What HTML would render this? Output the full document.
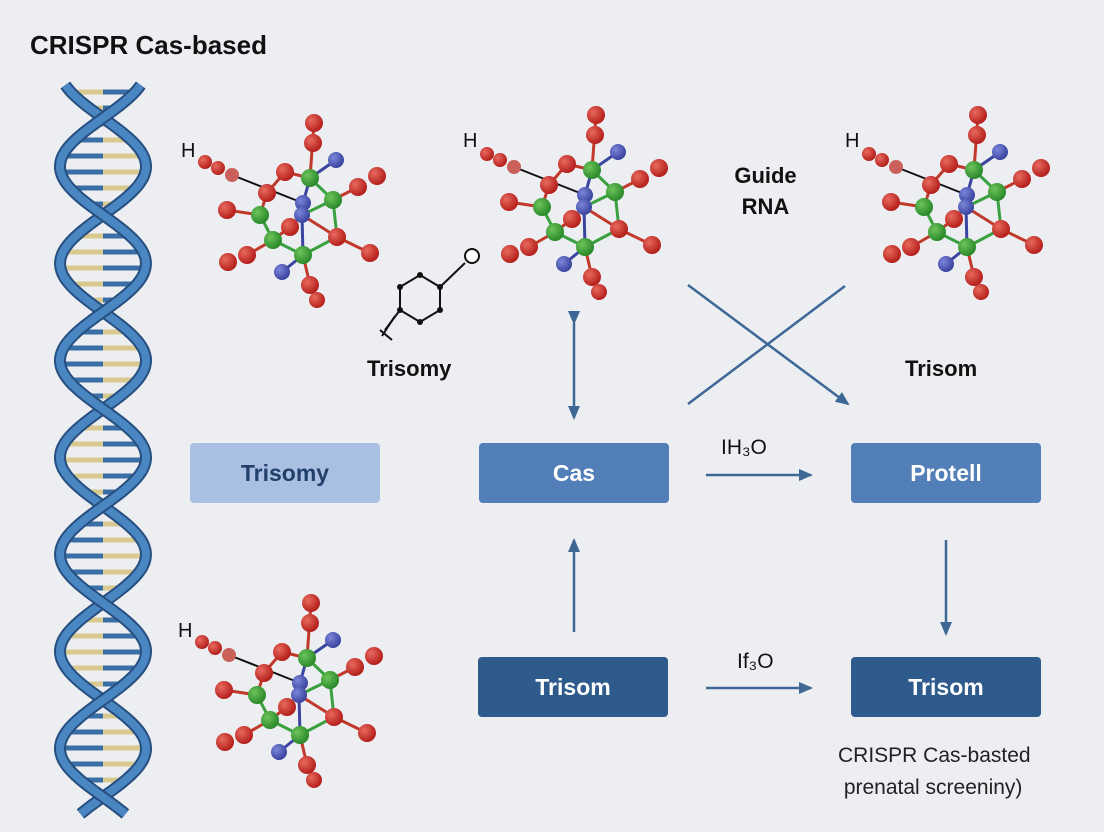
<!DOCTYPE html>
<html><head><meta charset="utf-8"><style>
html,body{margin:0;padding:0;background:#eceef1;}
body{width:1104px;height:832px;position:relative;overflow:hidden;font-family:"Liberation Sans",sans-serif;}
.t{position:absolute;color:#111;}
.box{position:absolute;width:190px;height:60px;border-radius:4px;color:#fff;font-weight:bold;font-size:23px;display:flex;align-items:center;justify-content:center;}
</style></head><body>
<svg id="s" width="1104" height="832" style="position:absolute;left:0;top:0">
<defs>
<radialGradient id="rg" cx="35%" cy="35%" r="65%"><stop offset="0" stop-color="#e86a5e"/><stop offset="1" stop-color="#b5201c"/></radialGradient>
<radialGradient id="gg" cx="35%" cy="35%" r="65%"><stop offset="0" stop-color="#6cc35a"/><stop offset="1" stop-color="#2b8a2b"/></radialGradient>
<radialGradient id="bg" cx="35%" cy="35%" r="65%"><stop offset="0" stop-color="#7b85d8"/><stop offset="1" stop-color="#3b45a0"/></radialGradient>
<marker id="ah" markerWidth="14" markerHeight="12" refX="12" refY="6" orient="auto" markerUnits="userSpaceOnUse"><path d="M0,0 L14,6 L0,12 z" fill="#3d6896"/></marker>
<g id="mol">
 <g stroke-width="3">
 <line x1="232" y1="175" x2="303" y2="203" stroke="#111" stroke-width="2"/>
 <line x1="314" y1="123" x2="310" y2="178" stroke="#c0392b"/>
 <line x1="285" y1="172" x2="310" y2="178" stroke="#c0392b"/>
 <line x1="285" y1="172" x2="267" y2="193" stroke="#c0392b"/>
 <line x1="310" y1="178" x2="336" y2="160" stroke="#3b45a0"/>
 <line x1="310" y1="178" x2="333" y2="200" stroke="#3aa040"/>
 <line x1="310" y1="178" x2="303" y2="203" stroke="#3b45a0"/>
 <line x1="358" y1="187" x2="333" y2="200" stroke="#c0392b"/>
 <line x1="333" y1="200" x2="302" y2="215" stroke="#3aa040"/>
 <line x1="333" y1="200" x2="337" y2="237" stroke="#3aa040"/>
 <line x1="267" y1="193" x2="260" y2="215" stroke="#c0392b"/>
 <line x1="227" y1="210" x2="260" y2="215" stroke="#c0392b"/>
 <line x1="260" y1="215" x2="273" y2="240" stroke="#3aa040"/>
 <line x1="273" y1="240" x2="303" y2="255" stroke="#3aa040"/>
 <line x1="247" y1="255" x2="273" y2="240" stroke="#c0392b"/>
 <line x1="303" y1="255" x2="337" y2="237" stroke="#3aa040"/>
 <line x1="303" y1="255" x2="282" y2="272" stroke="#3b45a0"/>
 <line x1="303" y1="255" x2="310" y2="285" stroke="#c0392b"/>
 <line x1="337" y1="237" x2="370" y2="253" stroke="#c0392b"/>
 <line x1="302" y1="215" x2="337" y2="237" stroke="#c0392b"/>
 <line x1="302" y1="215" x2="303" y2="255" stroke="#3b45a0"/>
 <line x1="290" y1="227" x2="273" y2="240" stroke="#c0392b"/>
 </g>
 <g fill="url(#rg)">
 <circle cx="205" cy="162" r="7"/><circle cx="218" cy="168" r="7"/><circle cx="232" cy="175" r="7" fill="#c9605a"/>
 <circle cx="314" cy="123" r="9"/><circle cx="313" cy="143" r="9"/><circle cx="285" cy="172" r="9"/>
 <circle cx="267" cy="193" r="9"/><circle cx="227" cy="210" r="9"/><circle cx="377" cy="176" r="9"/>
 <circle cx="358" cy="187" r="9"/><circle cx="337" cy="237" r="9"/><circle cx="370" cy="253" r="9"/>
 <circle cx="247" cy="255" r="9"/><circle cx="228" cy="262" r="9"/><circle cx="290" cy="227" r="9"/>
 <circle cx="310" cy="285" r="9"/><circle cx="317" cy="300" r="8"/>
 </g>
 <g fill="url(#gg)">
 <circle cx="310" cy="178" r="9"/><circle cx="333" cy="200" r="9"/><circle cx="260" cy="215" r="9"/>
 <circle cx="273" cy="240" r="9"/><circle cx="303" cy="255" r="9"/>
 </g>
 <g fill="url(#bg)">
 <circle cx="336" cy="160" r="8"/><circle cx="303" cy="203" r="8"/><circle cx="302" cy="215" r="8"/><circle cx="282" cy="272" r="8"/>
 </g>
</g>
</defs>
<g id="helix"></g>
<use href="#mol"/>
<use href="#mol" x="282" y="-8"/>
<use href="#mol" x="664" y="-8"/>
<use href="#mol" x="-3" y="480"/>
<g stroke="#111" stroke-width="2" fill="none">
<polygon points="420,275 440,287 440,310 420,322 400,310 400,287"/>
<line x1="440" y1="287" x2="465" y2="263"/>
<circle cx="472" cy="256" r="7" fill="#fff"/>
<line x1="400" y1="310" x2="385" y2="330"/><line x1="395" y1="316" x2="382" y2="336"/><line x1="380" y1="330" x2="392" y2="340"/>
</g>
<g fill="#111"><circle cx="420" cy="275" r="3"/><circle cx="440" cy="287" r="3"/><circle cx="440" cy="310" r="3"/><circle cx="420" cy="322" r="3"/><circle cx="400" cy="310" r="3"/><circle cx="400" cy="287" r="3"/></g>
<g stroke="#3d6896" stroke-width="2.5" fill="none">
<line x1="574" y1="323" x2="574" y2="418" marker-end="url(#ah)" marker-start="url(#ah)"/>
<line x1="574" y1="632" x2="574" y2="540" marker-end="url(#ah)"/>
<line x1="688" y1="285" x2="848" y2="404" marker-end="url(#ah)"/>
<line x1="688" y1="404" x2="845" y2="286"/>
<line x1="706" y1="475" x2="811" y2="475" marker-end="url(#ah)"/>
<line x1="706" y1="688" x2="811" y2="688" marker-end="url(#ah)"/>
<line x1="946" y1="540" x2="946" y2="634" marker-end="url(#ah)"/>
</g>
</svg>
<div class="t" style="left:30px;top:30px;font-size:26px;font-weight:bold">CRISPR Cas-based</div>
<div class="t" style="left:181px;top:140px;font-size:20px">H</div>
<div class="t" style="left:463px;top:130px;font-size:20px">H</div>
<div class="t" style="left:845px;top:130px;font-size:20px">H</div>
<div class="t" style="left:178px;top:620px;font-size:20px">H</div>
<div class="t" style="left:728px;top:160px;font-size:22px;font-weight:bold;text-align:center;width:75px;line-height:31px">Guide RNA</div>
<div class="t" style="left:367px;top:356px;font-size:22px;font-weight:bold">Trisomy</div>
<div class="t" style="left:905px;top:356px;font-size:22px;font-weight:bold">Trisom</div>
<div class="t" style="left:721px;top:436px;font-size:21px">IH₃O</div>
<div class="t" style="left:737px;top:650px;font-size:21px">If₃O</div>
<div class="box" style="left:190px;top:443px;background:#a9c0e2;color:#22406a">Trisomy</div>
<div class="box" style="left:479px;top:443px;background:#527fb8">Cas</div>
<div class="box" style="left:851px;top:443px;background:#527fb8">Protell</div>
<div class="box" style="left:478px;top:657px;background:#2f5b8c">Trisom</div>
<div class="box" style="left:851px;top:657px;background:#2f5b8c">Trisom</div>
<div class="t" style="left:838px;top:740px;font-size:21px;line-height:32px;color:#222">CRISPR Cas-basted<br>&nbsp;prenatal screeniny)</div>
<script>
(function(){
var g=document.getElementById('helix'),h='';
function x(y,s){return 103+s*43*Math.sin(Math.PI*(y-118)/97);}
for(var y=92;y<=808;y+=16){var a=x(y,1),b=x(y,-1),m=(a+b)/2;
h+='<line x1="'+a+'" y1="'+y+'" x2="'+m+'" y2="'+y+'" stroke="#d9c98f" stroke-width="5"/>';
h+='<line x1="'+m+'" y1="'+y+'" x2="'+b+'" y2="'+y+'" stroke="#3a6ea6" stroke-width="5"/>';}
[1,-1].forEach(function(s){var p='';for(var y=85;y<=815;y+=3){p+=(p?'L':'M')+x(y,s).toFixed(1)+','+y;}
h+='<path d="'+p+'" fill="none" stroke="#264f80" stroke-width="12"/><path d="'+p+'" fill="none" stroke="#4a86c2" stroke-width="8"/>';});
g.innerHTML=h;})();
</script>
</body></html>
